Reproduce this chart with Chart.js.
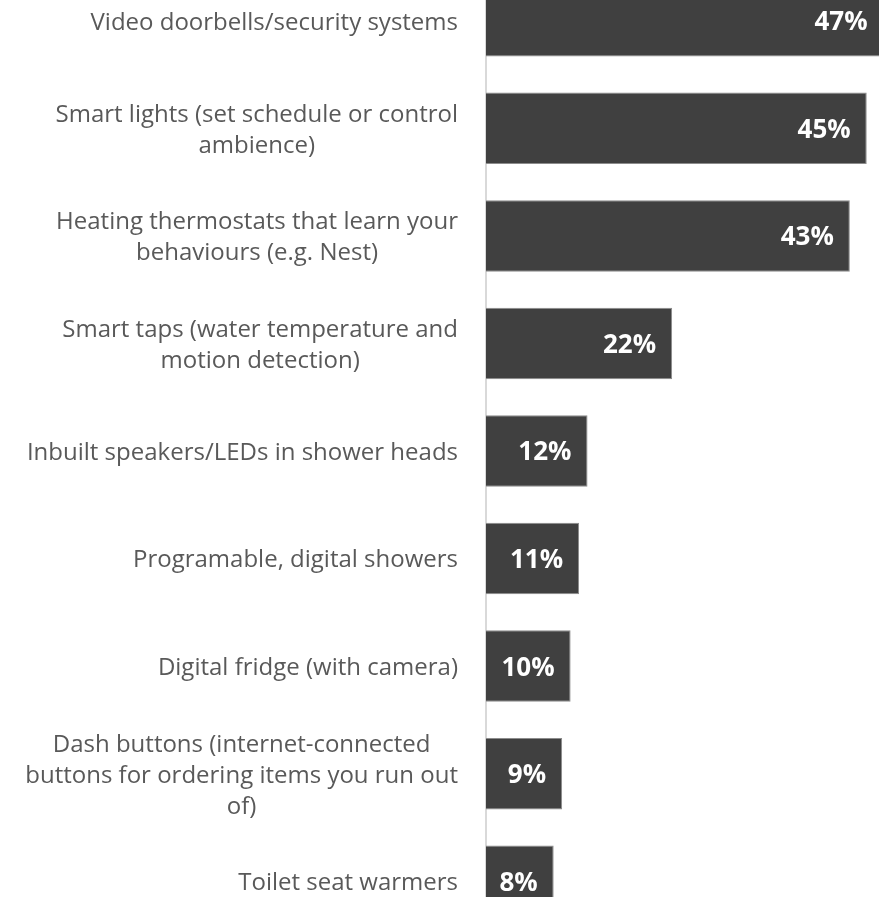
<!DOCTYPE html>
<html>
<head>
<meta charset="utf-8">
<script src="https://cdn.jsdelivr.net/npm/chart.js@4"></script>
<style>
  html, body { margin: 0; padding: 0; background: #fff; overflow: hidden; }
  body { width: 879px; height: 897px; position: relative; }
  #chart { position: absolute; left: 0; top: -33px; }
</style>
</head>
<body>
<canvas id="chart" width="879" height="968"></canvas>
<script>
const categories = [
    ['Video doorbells/security systems'],
    ['Smart lights (set schedule or control', 'ambience)'],
    ['Heating thermostats that learn your', 'behaviours (e.g. Nest)'],
    ['Smart taps (water temperature and', 'motion detection)'],
    ['Inbuilt speakers/LEDs in shower heads'],
    ['Programable, digital showers'],
    ['Digital fridge (with camera)'],
    ['Dash buttons (internet-connected', 'buttons for ordering items you run out', 'of)'],
    ['Toilet seat warmers']
]
const shares = [47, 45, 43, 22, 12, 11, 10, 9, 8]

// labels on the left: block right aligned, lines centred within the block
const categoryLabels = {
    id: 'categoryLabels',
    afterDraw(chart) {
        const ctx = chart.ctx
        const yScale = chart.scales.y
        const right = 458
        const lineHeight = 31
        ctx.save()
        ctx.font = '24px "Open Sans"'
        ctx.fillStyle = '#595959'
        ctx.textAlign = 'center'
        ctx.textBaseline = 'middle'
        categories.forEach((lines, i) => {
            const y = yScale.getPixelForValue(i) + 2
            const widest = Math.max(...lines.map(l => ctx.measureText(l).width))
            const cx = right - widest / 2
            const top = y - (lines.length - 1) * lineHeight / 2
            lines.forEach((l, j) => ctx.fillText(l, cx, top + j * lineHeight))
        })
        ctx.restore()
    }
}

// value labels inside the bar ends
const valueLabels = {
    id: 'valueLabels',
    afterDatasetsDraw(chart) {
        const ctx = chart.ctx
        const meta = chart.getDatasetMeta(0)
        ctx.save()
        ctx.font = 'bold 26px "Open Sans"'
        ctx.fillStyle = '#ffffff'
        ctx.textAlign = 'right'
        ctx.textBaseline = 'middle'
        meta.data.forEach((bar, i) => {
            ctx.fillText(shares[i] + '%', bar.x - 16, bar.y + 2)
        })
        ctx.restore()
    }
}

new Chart(document.getElementById('chart').getContext('2d'), {
    type: 'bar',
    data: {
        labels: categories.map(c => c.join(' ')),
        datasets: [{
            data: shares,
            backgroundColor: '#404040',
            borderColor: '#8c8c8c',
            borderWidth: 1,
            barPercentage: 0.665,
            categoryPercentage: 1
        }]
    },
    options: {
        indexAxis: 'y',
        responsive: false,
        animation: false,
        layout: { padding: 0 },
        plugins: {
            legend: { display: false },
            tooltip: { enabled: false }
        },
        scales: {
            x: {
                display: false,
                min: 0,
                max: 46.45
            },
            y: {
                grid: { display: false },
                border: { display: true, color: '#d9d9d9', width: 2 },
                ticks: { display: false },
                afterFit(scale) { scale.width = 486 }
            }
        }
    },
    plugins: [categoryLabels, valueLabels]
})
</script>
</body>
</html>
